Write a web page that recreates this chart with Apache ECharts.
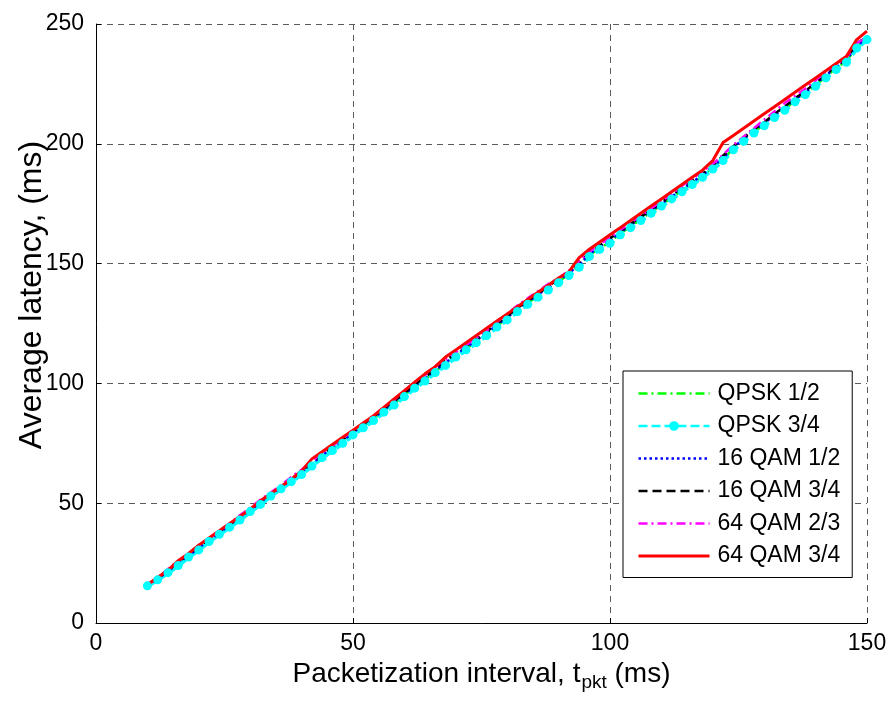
<!DOCTYPE html>
<html>
<head>
<meta charset="utf-8">
<script src="https://cdn.jsdelivr.net/npm/echarts@6/dist/echarts.min.js"></script>
<style>
html,body{margin:0;padding:0;background:#fff;}
#chart{width:890px;height:702px;}
</style>
</head>
<body>
<div id="chart"></div>
<script>
// Packetization interval (ms)
const tpkt = [10,12,14,16,18,20,22,24,26,28,30,32,34,36,38,40,42,44,46,48,50,52,54,56,58,60,62,64,66,68,70,72,74,76,78,80,82,84,86,88,90,92,94,96,98,100,102,104,106,108,110,112,114,116,118,120,122,124,126,128,130,132,134,136,138,140,142,144,146,148,150];

const qpsk12 = [15.5,18.5,21.5,24.5,28,31,34.5,37.5,40.5,43.5,47,50,53.5,56.5,59.5,62.5,66,69.5,72.5,75.5,79,82,85,88.5,91.5,95,98.5,101.5,105,108,111.5,114.5,117.5,120.5,124,127,130.5,133.5,136.5,139.5,142.5,145.5,149,153.5,156.5,159,162.5,165.5,168.5,171.5,174.5,177.5,180.5,183.5,186.5,190,193.5,198,201.5,205,208,211.5,214.5,218,221,224.5,228,231.5,234.5,240.5,244];

const qpsk34 = [15.5,18,21,24,27.5,30.5,34,37,40,43,46.5,49.5,53,56,59,62,65.5,69,72,75,78.5,81.5,84.5,88,91,94.5,98,101,104.5,107.5,111,114,117,120,123.5,126.5,130,133,136,139,142,145,148.5,153,156,158.5,162,165,168,171,174,177,180,183,186,189.5,193,197.5,201,204.5,207.5,211,214,217.5,220.5,224,227.5,231,234,240,243.5];

const qam16_12 = [16,18.5,21.5,25,28,31.5,34.5,37.5,41,44,47,50.5,53.5,56.5,60,63,66.5,70,73,76,79.5,82.5,85.5,89,92,95.5,99,102,105.5,108.5,112,115,118,121,124.5,127.5,131,134,137,140,143,146,149.5,154,157,159.5,163,166,169,172,175,178,181,184,187,190.5,194,198.5,202,205.5,208.5,212,215,218.5,221.5,225,228.5,232,235,241,244];

const qam16_34 = [16,19,22,25.5,28.5,32,35,38,41,44.5,47.5,51,54,57,60,63.5,67,70.5,73.5,76.5,80,83,86,89.5,92.5,96,99.5,102.5,106,109.5,112.5,115.5,118.5,121.5,125,128,131.5,134.5,137.5,140.5,143.5,146.5,150.5,154.5,157.5,160.5,163.5,166.5,169.5,172.5,175.5,178.5,181.5,184.5,187.5,191,195,199,202.5,206,209,212.5,215.5,219,222,225.5,229,232.5,235.5,242,244.5];

const qam64_23 = [16,19,22.5,26,29,32.5,35.5,38.5,41.5,45,48,51.5,54.5,57.5,61,64,67.5,71,74,77,80.5,83.5,86.5,90,93,97,100.5,103.5,107,110,113,116,119,122,125.5,129,132.5,135.5,138.5,141.5,144,147,151,155,158,161,164,167,170,173,176,179,182.5,185.5,188.5,191.5,195.5,199.5,203,206.5,210,213.5,217,220,223,226.5,230,233,236,242,244.5];

const qam64_34 = [16,19,22,26,29,32.5,35.5,38.5,41.5,44.5,47.5,51,54,57,60,63.5,68.5,71.5,74.5,77.5,80.5,83.5,86.5,90,93.5,97,100.5,104,107,111,114,117,120,123,126,129,132,135,138,141,144,146.5,152.5,156,159,162,165,168,171,174,177,180,183,186,189,193,200.5,203.5,206.5,209.5,212.5,215.5,218.5,221.5,224.5,227.5,230.5,233.5,236.5,243.5,247];

const seriesNames = ['QPSK 1/2','QPSK 3/4','16 QAM 1/2','16 QAM 3/4','64 QAM 2/3','64 QAM 3/4'];
const xTicks = [0,50,100,150];
const yTicks = [0,50,100,150,200,250];

const FONT = '"Liberation Sans", Arial, Helvetica, sans-serif';
function pairs(ys){ return tpkt.map((t,i)=>[t, ys[i]]); }

const styles = [
  {color:'#00ff00', type:[9,4,2,4], width:2.5, legendWidth:2.5, symbol:'none'},
  {color:'#00ffff', type:[9,4], width:4.5, legendWidth:2.5, symbol:'circle'},
  {color:'#0000ff', type:[2.5,3], width:2.5, legendWidth:2.5, symbol:'none'},
  {color:'#000000', type:[9,5], width:2.5, legendWidth:2.5, symbol:'none'},
  {color:'#ff00ff', type:[9,4,2,4], width:2.5, legendWidth:2.5, symbol:'none'},
  {color:'#ff0000', type:'solid', width:3, legendWidth:3, symbol:'none'}
];
const allData = [qpsk12, qpsk34, qam16_12, qam16_34, qam64_23, qam64_34];

const series = allData.map((d,i)=>({
  name: seriesNames[i],
  type: 'line',
  data: pairs(d),
  symbol: styles[i].symbol,
  symbolSize: 9,
  showSymbol: styles[i].symbol !== 'none',
  itemStyle: {color: styles[i].color},
  lineStyle: {color: styles[i].color, type: styles[i].type, width: styles[i].width},
  emphasis: {disabled: true},
  animation: false
}));

const legendData = seriesNames.map((n,i)=> styles[i].symbol === 'none'
  ? {name: n, itemStyle: {opacity: 0}, lineStyle: {width: styles[i].legendWidth}}
  : {name: n, itemStyle: {color: styles[i].color}, lineStyle: {width: styles[i].legendWidth}});

const chart = echarts.init(document.getElementById('chart'), null, {renderer:'canvas'});
chart.setOption({
  backgroundColor: '#ffffff',
  animation: false,
  grid: {left: 96, right: 23, top: 24, bottom: 79},
  graphic: [{
    type: 'text',
    x: 16, y: 295,
    rotation: Math.PI / 2,
    style: {
      text: 'Average latency, (ms)',
      fontFamily: FONT, fontSize: 32, fill: '#000',
      align: 'center', verticalAlign: 'top'
    }
  }],
  xAxis: {
    type: 'value', min: 0, max: 150, interval: 50,
    name: '{n|Packetization interval, t}{s|pkt}{n| (ms)}',
    nameLocation: 'middle', nameGap: 33,
    nameTextStyle: {
      rich: {
        n: {fontFamily: FONT, fontSize: 28, color:'#000', verticalAlign:'top', lineHeight: 30},
        s: {fontFamily: FONT, fontSize: 19, color:'#000', verticalAlign:'top', padding:[13,0,0,1], lineHeight: 30}
      }
    },
    axisLine: {show: true, lineStyle: {color:'#000', width:1}},
    axisTick: {show: true, inside: true, length: 5, lineStyle:{color:'#000'}},
    axisLabel: {color:'#000', fontFamily: FONT, fontSize: 23, margin: 9,
      formatter: v => xTicks.includes(v) ? String(v) : ''},
    splitLine: {show: true, lineStyle: {color:'#5a5a5a', type:[6,5], width:1}}
  },
  yAxis: {
    type: 'value', min: 0, max: 250, interval: 50,
    axisLine: {show: true, lineStyle: {color:'#000', width:1}},
    axisTick: {show: true, inside: true, length: 5, lineStyle:{color:'#000'}},
    axisLabel: {color:'#000', fontFamily: FONT, fontSize: 23, margin: 12,
      formatter: v => yTicks.includes(v) ? String(v) : ''},
    splitLine: {show: true, lineStyle: {color:'#5a5a5a', type:[6,5], width:1}}
  },
  legend: {
    orient: 'vertical',
    left: 623, top: 371,
    data: legendData,
    itemWidth: 71, itemHeight: 12,
    itemGap: 9.5,
    padding: [11, 12, 10, 14],
    backgroundColor: '#ffffff',
    borderColor: '#000000', borderWidth: 1, borderRadius: 0,
    textStyle: {fontFamily: FONT, fontSize: 23, color:'#000', lineHeight: 23, padding:[0,0,0,3]},
    selectedMode: false
  },
  series: series
});
</script>
</body>
</html>
